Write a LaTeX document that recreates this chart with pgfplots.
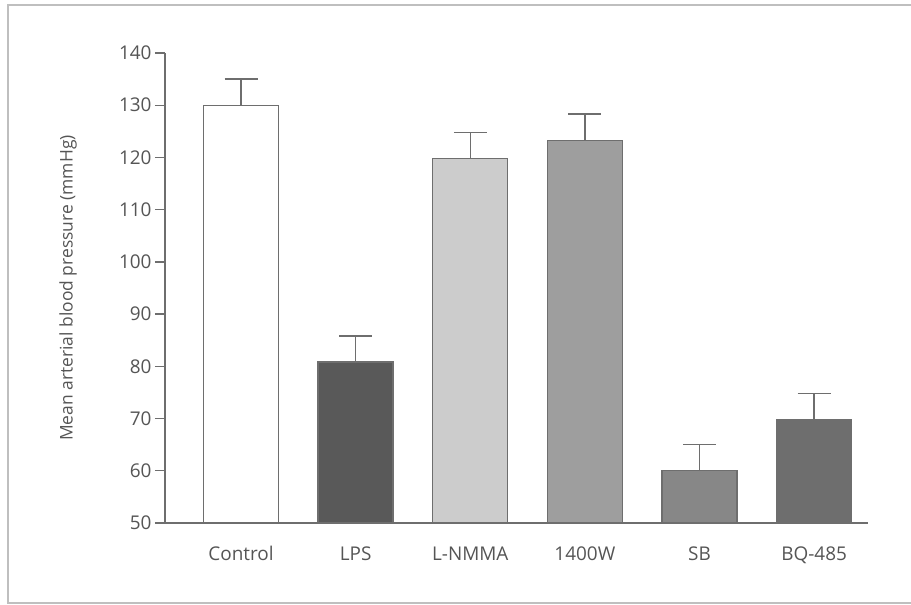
\documentclass[border=0pt]{standalone}
\usepackage{pgfplots}
\pgfplotsset{compat=1.18}
\usepackage{fontspec}
\setmainfont{Open Sans}
\definecolor{txt}{HTML}{555555}
\definecolor{edge}{HTML}{6E6E6E}
\begin{document}
\begin{tikzpicture}[x=1bp,y=1bp]
\path[use as bounding box] (0,0) rectangle (911,605);
\draw[color=black!25, line width=2bp] (911,600) -- (8,600) -- (8,2) -- (911,2);
\begin{axis}[
  at={(165bp,82bp)}, anchor=south west,
  scale only axis, width=703bp, height=470bp,
  xmin=-0.663, xmax=5.47, ymin=50, ymax=140,
  axis lines=left, axis line style={-, edge, line width=1.3bp},
  ytick={50,60,...,140}, ytick align=outside, major tick length=10bp,
  tick style={edge, line width=1.3bp},
  xtick={0,1,2,3,4,5}, xticklabels={Control,LPS,L-NMMA,1400W,SB,BQ-485},
  xtick style={draw=none},
  tick label style={font=\fontsize{19}{22}\selectfont, text=txt},
  /pgf/number format/assume math mode=true,
  xticklabel style={yshift=-10bp},
  ylabel={Mean arterial blood pressure (mmHg)},
  ylabel style={at={(axis description cs:-0.138,0.5)}, anchor=center, font=\fontsize{17.5}{20}\selectfont, text=txt},
  ybar, bar width=75bp, bar shift=0pt,
  every axis plot/.append style={draw=edge, line width=1.3bp},
  error bars/y dir=plus, error bars/y explicit,
  error bars/error bar style={edge, line width=1.3bp},
  error bars/error mark options={edge, line width=1.3bp, mark size=16.5bp, rotate=90},
]
\addplot[fill=white] coordinates {(0,130) +- (0,5)};
\addplot[fill=black!65] coordinates {(1,80.8) +- (0,5)};
\addplot[fill=black!20] coordinates {(2,119.8) +- (0,5)};
\addplot[fill=black!38] coordinates {(3,123.3) +- (0,5)};
\addplot[fill=black!47] coordinates {(4,60) +- (0,5)};
\addplot[fill=black!57] coordinates {(5,69.8) +- (0,5)};
\end{axis}
\end{tikzpicture}
\end{document}
